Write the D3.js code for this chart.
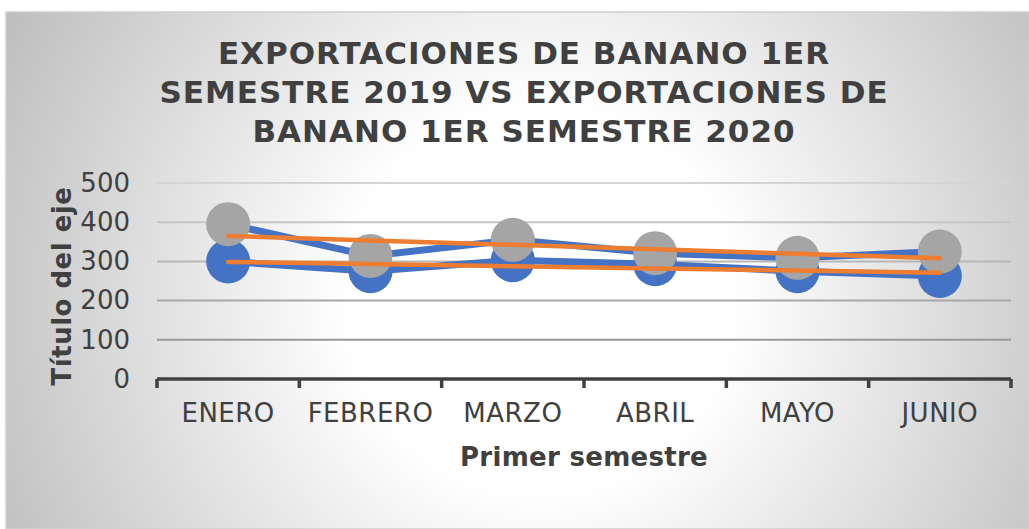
<!DOCTYPE html>
<html>
<head>
<meta charset="utf-8">
<script src="https://cdn.jsdelivr.net/npm/d3@7/dist/d3.min.js"></script>
<style>
  body { margin: 0; background: #fff; }
  text { font-family: "DejaVu Sans", Verdana, sans-serif; fill: #404040; }
</style>
</head>
<body>
<div id="chart"></div>
<script>
// datos
var meses = ["ENERO", "FEBRERO", "MARZO", "ABRIL", "MAYO", "JUNIO"];
var serie1 = [300, 275, 303, 293, 275, 263];
var serie2 = [395, 314, 355, 321, 309, 325];
var yTicks = [0, 100, 200, 300, 400, 500];
var titulo = ["EXPORTACIONES DE BANANO 1ER", "SEMESTRE 2019 VS EXPORTACIONES DE", "BANANO 1ER SEMESTRE 2020"];

var W = 1029, H = 529;
var margin = {top: 183, right: 18, bottom: 150, left: 157};
var width = W - margin.left - margin.right,
    height = H - margin.top - margin.bottom;

var svg = d3.select("#chart").append("svg")
    .attr("width", W)
    .attr("height", H);

// fondo con degradado radial
var defs = svg.append("defs");
var grad = defs.append("radialGradient")
    .attr("id", "bg")
    .attr("gradientUnits", "userSpaceOnUse")
    .attr("cx", 540).attr("cy", 300).attr("r", 640);
grad.append("stop").attr("offset", 0).attr("stop-color", "#ffffff");
grad.append("stop").attr("offset", 0.3).attr("stop-color", "#ffffff");
grad.append("stop").attr("offset", 1).attr("stop-color", "#b8b8b8");

svg.append("rect")
    .attr("x", 6).attr("y", 12)
    .attr("width", W - 6).attr("height", H - 12)
    .attr("fill", "url(#bg)")
    .attr("stroke", "#d0d0d0")
    .attr("stroke-width", 1.5);

var g = svg.append("g")
    .attr("transform", "translate(" + margin.left + "," + margin.top + ")");

var x = d3.scaleBand().domain(meses).range([0, width]);
var y = d3.scaleLinear().domain([0, 500]).range([height, 0]);

// lineas de cuadricula
var gridColor = d3.scaleLinear().domain([100, 500]).range(["#999999", "#d4d4d4"]);
g.selectAll(".grid")
  .data(yTicks.filter(function(d) { return d > 0; }))
  .enter().append("line")
    .attr("x1", 0).attr("x2", width)
    .attr("y1", function(d) { return y(d); })
    .attr("y2", function(d) { return y(d); })
    .attr("stroke", function(d) { return gridColor(d); })
    .attr("stroke-width", 2);

// eje Y (solo etiquetas)
var yAxis = g.append("g")
    .call(d3.axisLeft(y).tickValues(yTicks).tickSize(0).tickPadding(27));
yAxis.select(".domain").remove();
yAxis.selectAll("text")
    .style("font-size", "26px")
    .style("font-family", "DejaVu Sans, Verdana, sans-serif")
    .attr("fill", "#404040");

// eje X
var xAxis = g.append("g")
    .attr("transform", "translate(0," + height + ")")
    .call(d3.axisBottom(x).tickSize(0).tickPadding(25));
xAxis.select(".domain").remove();
xAxis.selectAll("text")
    .style("font-size", "26px")
    .style("font-family", "DejaVu Sans, Verdana, sans-serif")
    .style("letter-spacing", "0.5px")
    .attr("fill", "#404040");

g.append("line")
    .attr("x1", 0).attr("x2", width)
    .attr("y1", height).attr("y2", height)
    .attr("stroke", "#404040").attr("stroke-width", 3.5);

var bordes = meses.map(function(m) { return x(m); }).concat([width]);
g.selectAll(".xtick")
  .data(bordes)
  .enter().append("line")
    .attr("x1", function(d) { return d; })
    .attr("x2", function(d) { return d; })
    .attr("y1", height).attr("y2", height + 9)
    .attr("stroke", "#404040").attr("stroke-width", 3.5);

// series
var cx = function(d, i) { return x(meses[i]) + x.bandwidth() / 2; };
var linea = d3.line()
    .x(function(d, i) { return cx(d, i); })
    .y(function(d) { return y(d); });

function dibujarSerie(datos, colorMarcador) {
  g.append("path")
    .datum(datos)
    .attr("d", linea)
    .attr("fill", "none")
    .attr("stroke", "#4472C4")
    .attr("stroke-width", 7)
    .attr("stroke-linejoin", "round");
  g.selectAll(null)
    .data(datos)
    .enter().append("circle")
      .attr("cx", cx)
      .attr("cy", function(d) { return y(d); })
      .attr("r", 22)
      .attr("fill", colorMarcador);
}
dibujarSerie(serie1, "#4472C4");
dibujarSerie(serie2, "#A5A5A5");

// lineas de tendencia (regresion lineal)
function tendencia(datos) {
  var n = datos.length;
  var mx = (n - 1) / 2, my = d3.mean(datos);
  var num = 0, den = 0;
  datos.forEach(function(v, i) { num += (i - mx) * (v - my); den += (i - mx) * (i - mx); });
  var b = num / den, a = my - b * mx;
  return datos.map(function(v, i) { return a + b * i; });
}
[serie1, serie2].forEach(function(s) {
  g.append("path")
    .datum(tendencia(s))
    .attr("d", linea)
    .attr("fill", "none")
    .attr("stroke", "#ED7D31")
    .attr("stroke-width", 4.5)
    .attr("stroke-linecap", "round");
});

// titulos
svg.append("text")
    .attr("text-anchor", "middle")
    .style("font-size", "31px")
    .style("font-weight", "bold")
    .style("letter-spacing", "1px")
    .selectAll("tspan")
    .data(titulo)
    .enter().append("tspan")
      .attr("x", 524)
      .attr("y", function(d, i) { return 64 + i * 39; })
      .text(function(d) { return d; });

svg.append("text")
    .attr("text-anchor", "middle")
    .attr("x", margin.left + width / 2)
    .attr("y", 466)
    .style("font-size", "26px")
    .style("font-weight", "bold")
    .style("letter-spacing", "0.3px")
    .text("Primer semestre");

svg.append("text")
    .attr("text-anchor", "middle")
    .attr("transform", "translate(71,286) rotate(-90)")
    .style("font-size", "26px")
    .style("font-weight", "bold")
    .style("letter-spacing", "0.5px")
    .text("Título del eje");
</script>
</body>
</html>
